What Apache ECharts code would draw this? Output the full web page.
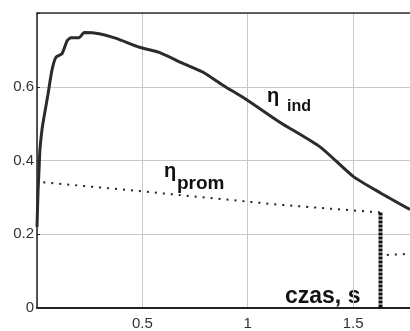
<!DOCTYPE html>
<html>
<head>
<meta charset="utf-8">
<script src="https://cdn.jsdelivr.net/npm/echarts@6/dist/echarts.min.js"></script>
<style>
  html, body { margin: 0; padding: 0; background: #fff; }
  #chart { width: 410px; height: 331px; }
</style>
</head>
<body>
<div id="chart"></div>
<script>
// η_ind — sprawność indykowana (czas [s], wartość)
var indTime = [0, 0.005, 0.01, 0.014, 0.024, 0.033, 0.052, 0.071, 0.09, 0.119, 0.143, 0.162, 0.2, 0.224, 0.295, 0.376, 0.486, 0.58, 0.69, 0.786, 0.88, 0.995, 1.152, 1.343, 1.5, 1.63, 1.77];
var indValue = [0.22, 0.317, 0.38, 0.43, 0.485, 0.517, 0.579, 0.645, 0.68, 0.69, 0.725, 0.733, 0.733, 0.747, 0.744, 0.731, 0.707, 0.693, 0.664, 0.64, 0.605, 0.565, 0.504, 0.437, 0.357, 0.312, 0.267];

// η_prom — dwa odcinki, przerwa przy skoku
var promTime = [0.03, 0.486, 1.152, 1.628, null, 1.66, 1.77];
var promValue = [0.341, 0.317, 0.28, 0.259, null, 0.144, 0.147];

// pionowa linia (koniec cyklu)
var jumpTime = [1.63, 1.63];
var jumpValue = [0.259, 0];

var xMax = 1.77;
var yTicks = [0, 0.2, 0.4, 0.6, 0.8];

function pairs(xs, ys) {
  return xs.map(function (x, i) { return x === null ? [null, null] : [x, ys[i]]; });
}

var chart = echarts.init(document.getElementById("chart"));
var font = "Liberation Sans, Arial, sans-serif";

chart.setOption({
  animation: false,
  grid: { left: 37, top: 13, right: 0, bottom: 19 },
  xAxis: [
    {
      type: "value",
      min: 0, max: xMax, interval: 0.5,
      axisLine: { lineStyle: { color: "#222", width: 2 } },
      axisTick: { show: false },
      splitLine: { lineStyle: { color: "#c8c8c8", width: 1 } },
      axisLabel: {
        color: "#333", fontSize: 15, fontFamily: font, margin: 8,
        showMaxLabel: false,
        formatter: function (v) { return v === 0 || v > 1.6 ? "" : String(v); }
      }
    },
    {
      type: "value", position: "top",
      min: 0, max: xMax,
      axisLine: { show: true, lineStyle: { color: "#333", width: 1.5 } },
      axisTick: { show: false }, axisLabel: { show: false }, splitLine: { show: false }
    }
  ],
  yAxis: {
    type: "value",
    min: yTicks[0], max: yTicks[yTicks.length - 1], interval: 0.2,
    axisLine: { show: true, lineStyle: { color: "#222", width: 1.5 } },
    axisTick: { show: true, inside: true, length: 3, lineStyle: { color: "#222" } },
    splitLine: { lineStyle: { color: "#c8c8c8", width: 1 } },
    axisLabel: {
      color: "#333", fontSize: 15, fontFamily: font, margin: 3,
      formatter: function (v) { return v >= 0.79 ? "" : String(+v.toFixed(1)); }
    }
  },
  series: [
    {
      name: "η_ind", type: "line", symbol: "none",
      data: pairs(indTime, indValue),
      smooth: 0.2,
      lineStyle: { color: "#2b2b2b", width: 3 }
    },
    {
      name: "η_prom", type: "line", symbol: "none",
      data: pairs(promTime, promValue),
      connectNulls: false,
      lineStyle: { color: "#222", width: 2, type: [2, 6] }
    },
    {
      name: "jump", type: "line", symbol: "none",
      data: pairs(jumpTime, jumpValue),
      lineStyle: { color: "#111", width: 4, type: [3, 1] }
    }
  ],
  graphic: [
    { type: "text", left: 267, top: 86, style: { text: "η", font: "bold 20px " + font, fill: "#111" } },
    { type: "text", left: 287, top: 99, style: { text: "ind", font: "bold 16px " + font, fill: "#111" } },
    { type: "text", left: 164, top: 161, style: { text: "η", font: "bold 20px " + font, fill: "#111" } },
    { type: "text", left: 177, top: 174, style: { text: "prom", font: "bold 19px " + font, fill: "#111" } },
    { type: "text", left: 285, top: 285, style: { text: "czas, s", font: "bold 23px " + font, fill: "#111" } }
  ]
});
</script>
</body>
</html>
